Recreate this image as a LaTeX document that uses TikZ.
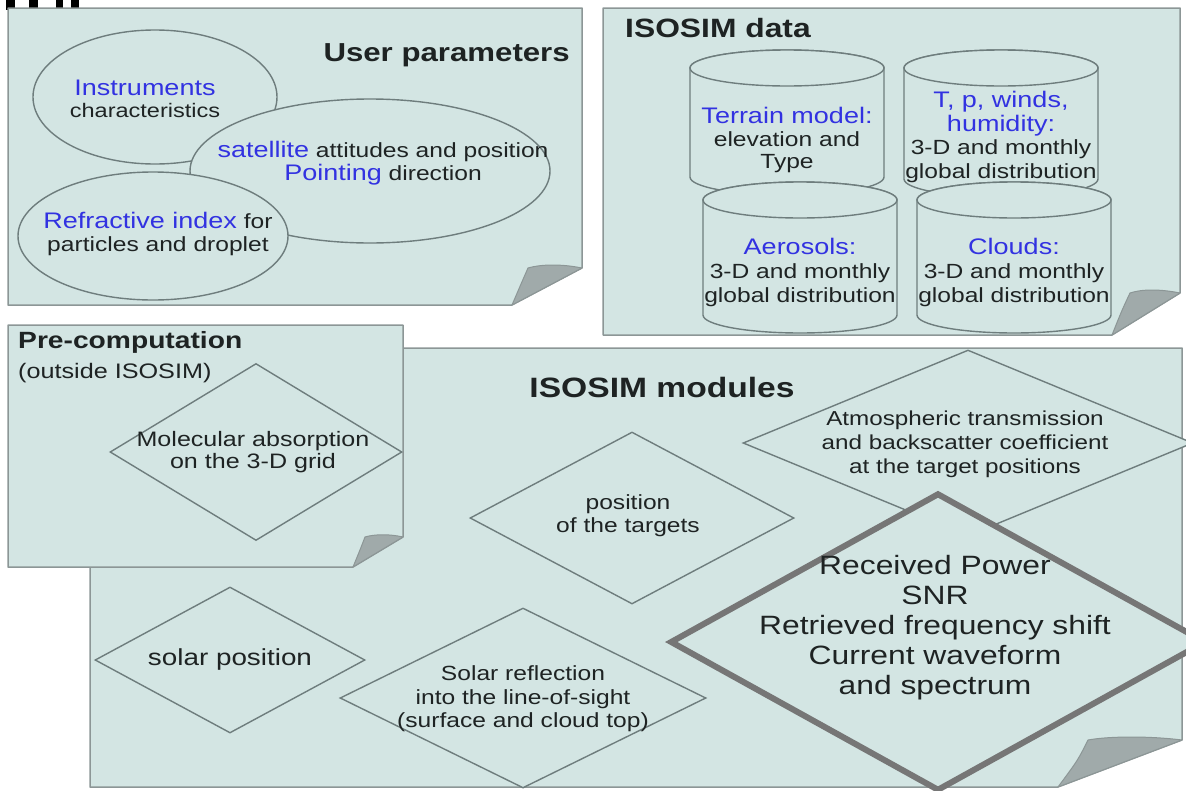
\documentclass[tikz,border=0pt]{standalone}
\usepackage{fontspec}
\setmainfont[FakeStretch=1.2]{Liberation Sans}
\usetikzlibrary{shapes.geometric}

\definecolor{sheetfill}{RGB}{211,229,227}
\definecolor{sheetline}{RGB}{140,150,150}
\definecolor{curlfill}{RGB}{160,170,170}
\definecolor{shapeline}{RGB}{110,125,125}
\definecolor{heavyline}{RGB}{118,118,118}
\definecolor{hilite}{RGB}{50,50,225}
\definecolor{ink}{RGB}{30,35,35}

% blue key words
\newcommand{\hl}[1]{{\color{hilite}\fontsize{22.5}{23.5}\selectfont #1}}
% data drum: name, centre x, top, bottom
\newcommand{\drum}[4]{%
  \draw[drumline] (#2-97,#3+18) -- (#2-97,#4-18)
    arc[start angle=180,end angle=0,x radius=97,y radius=18]
    -- (#2+97,#3+18) arc[start angle=0,end angle=-180,x radius=97,y radius=18] -- cycle;
  \draw[drumline] (#2,#3+18) ellipse[x radius=97,y radius=18];
  \coordinate (#1) at (#2,#3);}

\tikzset{
  sheet/.style={fill=sheetfill, draw=sheetline, line width=1.5pt, line join=round},
  curl/.style={fill=curlfill, draw=sheetline, line width=1pt, line join=round},
  oval/.style={ellipse, draw=shapeline, fill=sheetfill, line width=1.4pt, inner sep=0pt},
  rhomb/.style={diamond, draw=shapeline, fill=sheetfill, line width=1.4pt, inner sep=0pt},
  drumline/.style={draw=shapeline, fill=sheetfill, line width=1.4pt},
  body/.style={text=ink, align=center, inner sep=0pt, font=\fontsize{20.5}{23.5}\selectfont},
  title/.style={text=ink, inner sep=0pt, font=\bfseries\fontsize{26}{30}\selectfont},
}

\begin{document}
\begin{tikzpicture}[x=1pt, y=-1pt]
\useasboundingbox (0,0) rectangle (1186,790);
\clip (0,0) rectangle (1186,790);

% cut-off marks at the top
\foreach \a/\b in {6/15, 29/38, 56/63, 71/79}
  \fill[black] (\a,0) rectangle (\b,10);

% ---- ISOSIM modules ----
\draw[sheet] (90,348) -- (1182,348) -- (1182,740) -- (1058,787) -- (90,787) -- cycle;
\draw[curl] (1182,740) .. controls (1150,736) and (1110,736) .. (1088,740)
  .. controls (1078,760) .. (1058,787) -- cycle;
\node[title, font=\bfseries\fontsize{28}{30}\selectfont] (modtitle) at (662,387) {ISOSIM modules};

\node[rhomb, minimum width=450pt, minimum height=186pt] (atmo) at (968,443) {};
\node[body, font=\fontsize{20.2}{24}\selectfont] (atmotxt) at (965,444)
  {Atmospheric transmission\\and backscatter coefficient\\at the target positions};

\node[rhomb, minimum width=324pt, minimum height=172pt] (targets) at (632,518) {};
\node[body, font=\fontsize{20.5}{23}\selectfont] (targetstxt) at (628,516) {position\\of the targets};

\node[rhomb, minimum width=270pt, minimum height=146pt] (sun) at (230,660) {};
\node[body, font=\fontsize{23.2}{25}\selectfont] (suntxt) at (230,659) {solar position};

\node[rhomb, minimum width=366pt, minimum height=180pt] (glint) at (523,698) {};
\node[body, font=\fontsize{20.5}{23.5}\selectfont] (glinttxt) at (523,699)
  {Solar reflection\\into the line-of-sight\\(surface and cloud top)};

\node[rhomb, draw=heavyline, line width=6pt, minimum width=536pt, minimum height=298pt] (power) at (938,642) {};
\node[body, font=\fontsize{26.5}{30}\selectfont] (powertxt) at (935,628)
  {Received Power\\SNR\\Retrieved frequency shift\\Current waveform\\and spectrum};

% ---- Pre-computation ----
\draw[sheet] (8,325) -- (403,325) -- (403,537) -- (353,567) -- (8,567) -- cycle;
\draw[curl] (403,537) .. controls (390,534) and (375,534) .. (365,537)
  .. controls (360,550) .. (353,567) -- cycle;
\node[title, anchor=west, font=\bfseries\fontsize{23.5}{26}\selectfont] (pretitle) at (18,342) {Pre-computation};
\node[body, anchor=west, font=\fontsize{21}{24}\selectfont] (presub) at (18,373) {(outside ISOSIM)};
\node[rhomb, minimum width=292pt, minimum height=177pt] (absorb) at (256,452) {};
\node[body, font=\fontsize{20.9}{21.5}\selectfont] (absorbtxt) at (253,452) {Molecular absorption\\on the 3-D grid};

% ---- User parameters ----
\draw[sheet] (8,8) -- (582,8) -- (582,268) -- (512,305) -- (8,305) -- cycle;
\draw[curl] (582,268) .. controls (562,264) and (542,264) .. (528,268)
  .. controls (521,284) .. (512,305) -- cycle;
\node[title, anchor=east] (usertitle) at (570,55) {User parameters};

\node[oval, minimum width=244pt, minimum height=134pt] (instr) at (155,97) {};
\node[body, font=\fontsize{19.6}{22.5}\selectfont] (instrtxt) at (145,99) {\hl{Instruments}\\characteristics};
\node[oval, minimum width=360pt, minimum height=144pt] (sat) at (370,171) {};
\node[body] (sattxt) at (383,163) {\hl{satellite} attitudes and position\\\hl{Pointing} direction};
\node[oval, minimum width=270pt, minimum height=128pt] (refr) at (153,236) {};
\node[body] (refrtxt) at (158,234) {\hl{Refractive index} for\\particles and droplet};

% ---- ISOSIM data ----
\draw[sheet] (603,8) -- (1180,8) -- (1180,293) -- (1112,335) -- (603,335) -- cycle;
\draw[curl] (1180,293) .. controls (1160,289) and (1142,289) .. (1130,293)
  .. controls (1122,310) .. (1112,335) -- cycle;
\node[title, anchor=west, font=\bfseries\fontsize{26.5}{30}\selectfont] (datatitle) at (625,28) {ISOSIM data};

\drum{terrain}{787}{50}{195}
\drum{meteo}{1001}{50}{197}
\drum{aerosol}{800}{182}{333}
\drum{cloud}{1014}{182}{333}

\node[body, font=\fontsize{20.5}{22.5}\selectfont] (terraintxt) at (787,140)
  {\hl{Terrain model:}\\elevation and\\Type};
\node[body] (meteotxt) at (1001,137)
  {\hl{T, p, winds,}\\\hl{humidity:}\\3-D and monthly\\global distribution};
\node[body, font=\fontsize{20.5}{24}\selectfont] (aerosoltxt) at (800,272)
  {\hl{Aerosols:}\\3-D and monthly\\global distribution};
\node[body, font=\fontsize{20.5}{24}\selectfont] (cloudtxt) at (1014,272)
  {\hl{Clouds:}\\3-D and monthly\\global distribution};
\end{tikzpicture}
\end{document}
